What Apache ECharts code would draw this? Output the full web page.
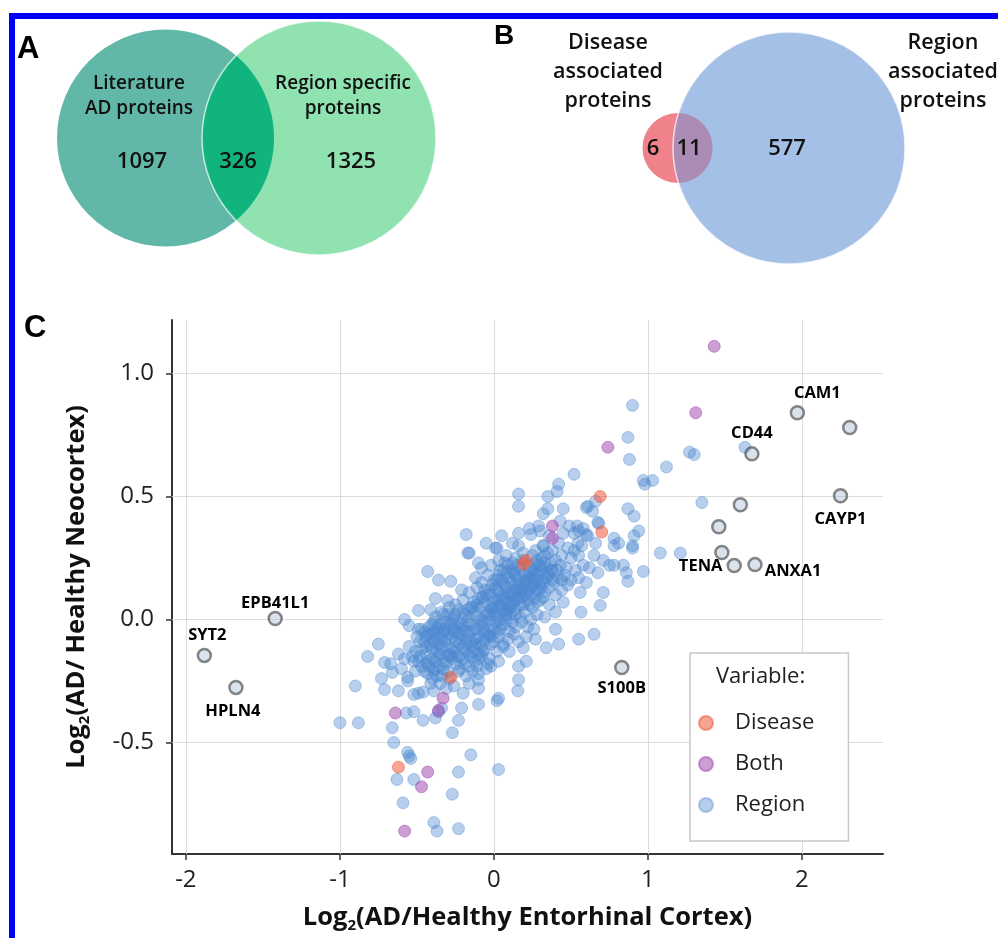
<!DOCTYPE html>
<html lang="en">
<head>
<meta charset="UTF-8">
<title>Disease and region associated proteins</title>
<style>
  html, body { margin: 0; padding: 0; background: #fff; overflow: hidden; }
  #main { position: absolute; left: 0; top: 0; width: 998px; height: 938px; }
  .frame { position: absolute; left: 9px; top: 13px; width: 989px; height: 925px; box-sizing: border-box;
           border-left: 6px solid #0000ff; border-top: 6px solid #0000ff; pointer-events: none; }
</style>
</head>
<body>
<div id="main"></div>
<div class="frame"></div>
<script src="https://cdn.jsdelivr.net/npm/echarts/dist/echarts.min.js"></script>
<script>
var FONT = '"Open Sans", "Noto Sans", sans-serif';

// ---- panel A / B venn counts ----
var vennACounts = [1097, 326, 1325];
var vennALabels = ['Literature\nAD proteins', 'Region specific\nproteins'];
var vennBCounts = [6, 11, 577];
var vennBLabels = ['Disease\nassociated\nproteins', 'Region\nassociated\nproteins'];

// ---- panel C axes ----
var xTicks = [-2, -1, 0, 1, 2];
var yTicks = [-0.5, 0, 0.5, 1.0];

// ---- panel C points: [log2 EC, log2 neocortex] ----
var regionPoints = [
  [-0.18,0.345],[0.16,0.35],[0.23,0.37],[0.24,0.345],[0.30,0.36],[0.45,0.35],[0.55,0.36],[0.61,0.34],[0.78,0.33],[0.91,0.34],[0.94,0.36],[0.05,0.34],[0.36,0.34],
  [0.01,0.29],[0.02,0.29],[0.16,0.30],[0.32,0.30],[0.42,0.31],[0.48,0.29],[0.57,0.30],[0.78,0.30],[0.90,0.29],[0.66,0.31],[0.12,0.31],[0.27,0.28],[0.38,0.28],[0.52,0.28],[-0.05,0.31],
  [-0.16,0.27],[-0.10,0.23],[-0.17,0.27],[0.08,0.26],[0.14,0.25],[0.19,0.27],[0.25,0.26],[0.31,0.25],[0.35,0.27],[0.40,0.24],[0.44,0.26],[0.50,0.25],[0.55,0.26],[0.65,0.26],[0.71,0.24],[1.08,0.27],[1.21,0.27],[0.03,0.24],[0.28,0.24],
  [-0.43,0.195],[-0.08,0.21],[-0.02,0.22],[0.04,0.20],[0.09,0.22],[0.12,0.20],[0.17,0.21],[0.22,0.22],[0.26,0.20],[0.30,0.22],[0.34,0.21],[0.38,0.20],[0.43,0.22],[0.47,0.21],[0.53,0.20],[0.58,0.22],[0.75,0.22],[0.78,0.22],[0.84,0.22],[0.86,0.19],[0.97,0.195],[0.675,0.19],[0.62,0.21],[0.33,0.23],[0.07,0.23],
  [-0.36,0.16],[-0.28,0.155],[-0.08,0.15],[-0.12,0.17],[-0.04,0.18],[0.00,0.16],[0.03,0.18],[0.06,0.15],[0.10,0.17],[0.13,0.19],[0.16,0.16],[0.19,0.18],[0.22,0.15],[0.25,0.17],[0.28,0.19],[0.31,0.16],[0.35,0.18],[0.39,0.15],[0.42,0.17],[0.46,0.18],[0.50,0.16],[0.55,0.17],[0.87,0.155],[0.60,0.15],[0.20,0.185],[0.08,0.19],
  [-0.21,0.12],[-0.16,0.11],[-0.11,0.13],[-0.06,0.12],[-0.03,0.10],[0.01,0.13],[0.04,0.11],[0.07,0.14],[0.10,0.10],[0.13,0.12],[0.16,0.14],[0.18,0.11],[0.21,0.13],[0.24,0.10],[0.27,0.12],[0.30,0.14],[0.33,0.11],[0.36,0.13],[0.40,0.10],[0.44,0.12],[0.56,0.11],[0.71,0.11],[0.48,0.14],[-0.01,0.14],[0.14,0.145],[0.26,0.145],
  [-0.38,0.085],[-0.30,0.077],[-0.14,0.05],[-0.10,0.085],[-0.25,0.06],[-0.20,0.08],[-0.06,0.07],[-0.02,0.05],[0.01,0.08],[0.04,0.06],[0.07,0.09],[0.10,0.05],[0.13,0.07],[0.16,0.09],[0.19,0.06],[0.22,0.08],[0.25,0.05],[0.28,0.07],[0.32,0.09],[0.36,0.06],[0.69,0.057],[0.45,0.07],[0.05,0.09],[-0.08,0.09],[0.12,0.095],
  [-0.49,0.037],[-0.41,0.04],[-0.34,0.03],[-0.26,0.01],[-0.20,0.03],[-0.58,0.0],[-0.39,-0.01],[-0.30,0.02],[-0.16,0.01],[-0.12,0.03],[-0.08,0.00],[-0.05,0.02],[-0.01,0.04],[0.02,0.01],[0.05,0.03],[0.08,0.00],[0.11,0.02],[0.14,0.04],[0.17,0.01],[0.20,0.03],[0.24,0.00],[0.28,0.02],[0.33,0.01],[0.565,0.03],[0.40,0.03],[-0.23,0.04],[0.09,0.04],[-0.03,-0.005],
  [-0.55,-0.025],[-0.49,-0.04],[-0.45,-0.05],[-0.36,-0.03],[-0.32,-0.04],[-0.28,-0.02],[-0.24,-0.05],[-0.20,-0.03],[-0.17,-0.01],[-0.13,-0.04],[-0.09,-0.02],[-0.06,-0.05],[-0.02,-0.03],[0.01,-0.01],[0.04,-0.04],[0.07,-0.02],[0.10,-0.05],[0.14,-0.03],[0.18,-0.01],[0.26,-0.04],[0.40,-0.04],[0.22,-0.03],[-0.40,-0.02],[0.12,-0.01],
  [-0.39,-0.08],[-0.27,-0.07],[-0.21,-0.08],[-0.34,-0.08],[-0.44,-0.07],[-0.48,-0.09],[-0.30,-0.06],[-0.25,-0.09],[-0.17,-0.06],[-0.14,-0.09],[-0.10,-0.07],[-0.06,-0.08],[-0.03,-0.06],[0.00,-0.09],[0.03,-0.07],[0.06,-0.10],[0.09,-0.08],[0.13,-0.06],[0.27,-0.08],[0.55,-0.08],[0.65,-0.06],[0.16,-0.09],[0.21,-0.07],[-0.36,-0.10],[-0.12,-0.10],
  [-0.75,-0.10],[-0.62,-0.14],[-0.55,-0.11],[-0.47,-0.12],[-0.41,-0.105],[-0.37,-0.13],[-0.33,-0.11],[-0.29,-0.14],[-0.25,-0.12],[-0.22,-0.10],[-0.18,-0.13],[-0.14,-0.11],[-0.10,-0.14],[-0.06,-0.12],[-0.02,-0.10],[0.02,-0.13],[0.06,-0.11],[0.42,-0.10],[0.34,-0.115],[0.19,-0.115],[0.10,-0.13],[-0.44,-0.14],[-0.51,-0.13],
  [-0.82,-0.15],[-0.71,-0.175],[-0.67,-0.18],[-0.58,-0.16],[-0.52,-0.17],[-0.48,-0.15],[-0.44,-0.18],[-0.40,-0.16],[-0.36,-0.19],[-0.32,-0.17],[-0.28,-0.15],[-0.24,-0.18],[-0.20,-0.16],[-0.16,-0.19],[-0.12,-0.17],[-0.08,-0.15],[-0.04,-0.18],[-0.02,-0.19],[0.03,-0.17],[0.21,-0.17],[0.16,-0.19],[-0.47,-0.19],[-0.10,-0.16],
  [-0.60,-0.20],[-0.66,-0.215],[-0.73,-0.24],[-0.56,-0.235],[-0.51,-0.21],[-0.43,-0.22],[-0.38,-0.20],[-0.34,-0.23],[-0.30,-0.21],[-0.22,-0.20],[-0.18,-0.23],[-0.14,-0.21],[-0.10,-0.22],[-0.05,-0.20],[-0.10,-0.245],[0.16,-0.245],[-0.40,-0.24],
  [-0.90,-0.27],[-0.71,-0.285],[-0.62,-0.29],[-0.56,-0.25],[-0.52,-0.305],[-0.49,-0.30],[-0.46,-0.295],[-0.39,-0.29],[-0.35,-0.26],[-0.31,-0.28],[-0.26,-0.27],[-0.16,-0.26],[-0.10,-0.28],[0.155,-0.29],[-0.20,-0.30],
  [-0.34,-0.36],[-0.36,-0.375],[-0.57,-0.38],[-0.52,-0.375],[-0.46,-0.41],[-0.38,-0.40],[-0.23,-0.41],[-0.27,-0.46],[-0.21,-0.36],[-0.10,-0.345],[0.02,-0.33],[0.03,-0.32],[-1.00,-0.42],[-0.88,-0.42],[-0.66,-0.44],[-0.65,-0.50],
  [-0.56,-0.54],[-0.54,-0.565],[-0.55,-0.555],[-0.63,-0.65],[-0.52,-0.65],[-0.23,-0.62],[-0.15,-0.55],[0.03,-0.61],[-0.27,-0.71],[-0.59,-0.745],[-0.39,-0.825],[-0.37,-0.86],[-0.23,-0.85],
  [0.90,0.87],[0.87,0.74],[0.88,0.65],[1.27,0.68],[1.30,0.67],[1.12,0.62],[0.97,0.565],[0.98,0.55],[1.03,0.565],[1.35,0.475],[0.60,0.455],[0.64,0.44],[0.87,0.45],[0.91,0.42],[0.68,0.39],
  [0.52,0.59],[0.42,0.55],[0.41,0.52],[0.35,0.50],[0.16,0.51],[0.16,0.46],[0.35,0.45],[0.45,0.45],[0.32,0.43],[0.61,0.46],[0.66,0.48],[0.29,0.38],[0.43,0.40],[0.49,0.38],[0.54,0.38],[0.58,0.37],
  [0.52,0.35],[0.60,0.345],[0.675,0.395],[0.81,0.31],[0.32,0.30],[0.545,0.31],[1.63,0.70],[0.90,0.30],
  [-0.42,-0.03],[-0.38,0.01],[-0.35,-0.06],[-0.31,-0.01],[-0.27,-0.04],[-0.23,-0.01],[-0.19,-0.05],[-0.15,-0.02],[-0.11,0.01],[-0.07,-0.03],[-0.03,0.02],[0.00,0.05],[0.03,0.08],[0.06,0.04],[0.09,0.11],[0.12,0.07],
  [0.15,0.12],[0.18,0.09],[0.21,0.16],[0.24,0.13],[0.27,0.18],[0.30,0.08],[-0.40,-0.12],[-0.36,-0.15],[-0.32,-0.09],[-0.28,-0.12],[-0.24,-0.15],[-0.20,-0.11],[-0.16,-0.14],[-0.12,-0.08],[-0.08,-0.11],[-0.04,-0.07],
  [0.00,-0.04],[0.04,0.00],[0.08,0.03],[0.11,0.15],[0.14,0.18],[0.17,0.13],[0.20,0.10],[0.23,0.06],[0.26,0.09],[0.29,0.12],[0.32,0.15],[0.35,0.19],[0.38,0.16],[0.41,0.20],[-0.43,-0.17],[-0.39,-0.21],
  [-0.35,-0.14],[-0.31,-0.18],[-0.27,-0.16],[-0.23,-0.21],[-0.19,-0.18],[-0.15,-0.15],[-0.11,-0.19],[-0.07,-0.13],[-0.03,-0.16],[-0.45,-0.09],[-0.41,-0.06],[-0.37,-0.04],[-0.33,0.02],[-0.29,0.05],[-0.25,0.02],[-0.21,-0.02],
  [-0.17,0.04],[-0.13,0.07],[-0.09,0.05],[-0.05,0.10],[-0.01,0.07],[0.02,0.12],[0.05,0.16],[0.08,0.13],[0.11,0.19],[0.15,0.22],[0.19,0.24],[0.23,0.19],[0.27,0.23],[0.31,0.20],[0.37,0.23],[0.44,0.16],
  [-0.44,-0.11],[-0.40,-0.09],[-0.37,-0.07],[-0.33,-0.05],[-0.29,-0.08],[-0.26,-0.05],[-0.22,-0.06],[-0.18,-0.08],[-0.15,-0.05],[-0.11,-0.04],[-0.07,-0.01],[-0.04,0.03],[0.00,0.02],[0.03,0.05],[0.06,0.08],[0.09,0.07],
  [0.12,0.10],[0.15,0.08],[0.18,0.12],[0.22,0.11],[0.25,0.14],[0.28,0.16],[0.31,0.13],[0.34,0.17],[0.37,0.20],[-0.42,-0.19],[-0.38,-0.17],[-0.34,-0.12],[-0.30,-0.15],[-0.26,-0.13],[-0.22,-0.15],[-0.18,-0.10],
  [-0.14,-0.13],[-0.10,-0.10],[-0.06,-0.06],[-0.02,-0.07],[0.02,-0.05],[0.05,-0.02],[0.08,0.02],[0.11,0.05],[0.14,0.02],[0.17,0.06],[0.20,0.15],[0.23,0.17],[0.26,0.20],[0.29,0.22],[0.33,0.26],[0.12,0.23],
  [0.06,0.20],[0.02,0.16],[-0.03,0.12],[-0.07,0.09],[-0.11,0.06],[-0.15,0.05],[-0.19,0.02],[-0.23,-0.03],[-0.27,0.00],[-0.31,-0.03],[-0.35,-0.02],[-0.39,-0.05],[-0.43,-0.06],[-0.47,-0.04],[-0.50,-0.07],[-0.53,-0.15],
  [-0.49,-0.17],[-0.45,-0.21],[-0.41,-0.26],[-0.37,-0.23],[-0.33,-0.20],[-0.29,-0.24]
];
var diseasePoints = [[0.69,0.50],[0.70,0.355],[0.21,0.24],[-0.28,-0.235],[-0.62,-0.60],[0.19,0.225]];
var bothPoints = [[1.43,1.11],[1.31,0.84],[0.74,0.70],[0.38,0.38],[0.38,0.33],[-0.33,-0.32],[-0.64,-0.38],[-0.43,-0.62],[-0.47,-0.68],[-0.58,-0.86],[-0.36,-0.37]];
var labeledPoints = [[1.97,0.84],[2.31,0.78],[1.675,0.673],[2.25,0.503],[1.60,0.466],[1.46,0.377],[1.48,0.272],[1.56,0.219],[1.695,0.223],[-1.42,0.004],[-1.88,-0.146],[-1.675,-0.276],[0.83,-0.195]];
var labeledNames = ['CAM1','','CD44','CAYP1','','','','TENA','ANXA1','EPB41L1','SYT2','HPLN4','S100B'];

// label placement for the named proteins
var labelPlacement = {
  CAM1: { position: 'top', distance: 3, offset: [20, 0] },
  CD44: { position: 'top', distance: 4, offset: [0, 0] },
  CAYP1: { position: 'bottom', distance: 5, offset: [0, 2] },
  TENA: { position: 'left', distance: 4, offset: [0, 1] },
  ANXA1: { position: 'right', distance: 2, offset: [0, 7] },
  EPB41L1: { position: 'top', distance: 1, offset: [0, 2] },
  SYT2: { position: 'top', distance: 4, offset: [3, 0] },
  HPLN4: { position: 'bottom', distance: 6, offset: [-3, 2] },
  S100B: { position: 'bottom', distance: 5, offset: [0, 0] }
};

// venn layout in the top overlay grid (1 unit = 1 px)
var vennLayout = [
  { c1: [165.5, 138], r1: 108.5, c2: [319, 138], r2: 117,
    colors: ['#62b8a8', '#90e2b0', '#12b47e'],
    counts: vennACounts, labels: vennALabels,
    countPos: [[142, 162], [238, 162], [351, 162]], labelPos: [[139, 96], [343, 96]],
    countSize: 22, labelSize: 19, labelLine: 25 },
  { c1: [677.5, 148], r1: 35, c2: [789, 148], r2: 116,
    colors: ['#f0828c', '#a4c0e6', '#aa8cb4'],
    counts: vennBCounts, labels: vennBLabels,
    countPos: [[653, 149], [689, 149], [787, 149]], labelPos: [[608, 72], [943, 72]],
    countSize: 22, labelSize: 21.5, labelLine: 29 }
];

function renderVenn(params, api) {
  var v = vennLayout[api.value(2)];
  var p1 = api.coord(v.c1), p2 = api.coord(v.c2);
  var r1 = Math.abs(api.size([v.r1, 0])[0]);
  var r2 = Math.abs(api.size([v.r2, 0])[0]);
  var dx = p2[0] - p1[0], dy = p2[1] - p1[1];
  var d = Math.sqrt(dx * dx + dy * dy);
  var th = Math.atan2(dy, dx);
  var a = (d * d + r1 * r1 - r2 * r2) / (2 * d);
  var al1 = Math.acos(a / r1);
  var al2 = Math.acos((d - a) / r2);
  var lens = [], i, t;
  for (i = 0; i <= 80; i++) {
    t = th - al1 + 2 * al1 * i / 80;
    lens.push([p1[0] + r1 * Math.cos(t), p1[1] + r1 * Math.sin(t)]);
  }
  for (i = 0; i <= 80; i++) {
    t = th + Math.PI - al2 + 2 * al2 * i / 80;
    lens.push([p2[0] + r2 * Math.cos(t), p2[1] + r2 * Math.sin(t)]);
  }
  var children = [
    { type: 'circle', shape: { cx: p1[0], cy: p1[1], r: r1 }, style: { fill: v.colors[0] } },
    { type: 'circle', shape: { cx: p2[0], cy: p2[1], r: r2 }, style: { fill: v.colors[1] } },
    { type: 'polygon', shape: { points: lens }, style: { fill: v.colors[2] } },
    { type: 'circle', shape: { cx: p2[0], cy: p2[1], r: r2 }, style: { fill: 'none', stroke: 'rgba(255,255,255,0.7)', lineWidth: 1.5 } }
  ];
  v.counts.forEach(function (c, k) {
    var p = api.coord(v.countPos[k]);
    children.push({ type: 'text', x: p[0], y: p[1], style: {
      text: String(c), fill: '#111', fontSize: v.countSize, fontWeight: 600, fontFamily: FONT,
      align: 'center', verticalAlign: 'middle' } });
  });
  v.labels.forEach(function (s, k) {
    var p = api.coord(v.labelPos[k]);
    children.push({ type: 'text', x: p[0], y: p[1], style: {
      text: s, fill: '#111', fontSize: v.labelSize, fontWeight: 600, fontFamily: FONT,
      lineHeight: v.labelLine, align: 'center', verticalAlign: 'middle' } });
  });
  return { type: 'group', children: children };
}

var titleRich = {
  b: { fontSize: 25.5, fontWeight: 'bold', fontFamily: FONT, color: '#111', lineHeight: 30 },
  s: { fontSize: 15, fontWeight: 'bold', fontFamily: FONT, color: '#111', lineHeight: 17, verticalAlign: 'bottom' }
};

var chart = echarts.init(document.getElementById('main'), null, { renderer: 'canvas' });
var option = {
  animation: false,
  textStyle: { fontFamily: FONT },
  grid: [
    { left: 172, right: 115, top: 320, bottom: 83 },
    { left: 0, top: 0, width: 998, height: 300 }
  ],
  xAxis: [
    { type: 'value', gridIndex: 0, min: -2.09, max: 2.526,
      axisLine: { onZero: false, lineStyle: { color: '#333', width: 2 } },
      axisTick: { show: true, length: 6, customValues: xTicks, lineStyle: { color: '#333', width: 1.5 } },
      axisLabel: { customValues: xTicks, fontSize: 24, color: '#222', margin: 14, formatter: function (v) { return String(v); } },
      splitLine: { show: false },
      name: '{b|Log}{s|2}{b|(AD/Healthy Entorhinal Cortex)}', nameLocation: 'middle', nameGap: 49,
      nameTextStyle: { rich: titleRich } },
    { type: 'value', gridIndex: 1, min: 0, max: 998, show: false }
  ],
  yAxis: [
    { type: 'value', gridIndex: 0, min: -0.953, max: 1.217,
      axisLine: { show: true, onZero: false, lineStyle: { color: '#333', width: 2 } },
      axisTick: { show: true, length: 6, customValues: yTicks, lineStyle: { color: '#333', width: 1.5 } },
      axisLabel: { customValues: yTicks, fontSize: 24, color: '#222', margin: 18, formatter: function (v) { return v.toFixed(1); } },
      splitLine: { show: false },
      name: '{b|Log}{s|2}{b|(AD/ Healthy Neocortex)}', nameLocation: 'middle', nameRotate: 90, nameGap: 80,
      nameTextStyle: { rich: titleRich } },
    { type: 'value', gridIndex: 1, min: 0, max: 300, inverse: true, show: false }
  ],
  title: {
    text: 'Variable:', left: 716, top: 666, padding: 0,
    textStyle: { fontSize: 22, fontWeight: 'normal', color: '#222', fontFamily: FONT }
  },
  legend: {
    data: ['Disease', 'Both', 'Region'], orient: 'vertical', left: 690, top: 653,
    padding: [57, 34, 23, 8], itemWidth: 48, itemHeight: 14, itemGap: 15,
    backgroundColor: '#fff', borderColor: '#c8c8c8', borderWidth: 1.5,
    textStyle: { fontSize: 22, color: '#222', fontFamily: FONT, lineHeight: 26 },
    selectedMode: false
  },
  graphic: [
    { type: 'text', left: 17, top: 34, style: { text: 'A', font: 'bold 31px "Liberation Sans", Arial, sans-serif', fill: '#000' } },
    { type: 'text', left: 494, top: 22, style: { text: 'B', font: 'bold 28px "Liberation Sans", Arial, sans-serif', fill: '#000' } },
    { type: 'text', left: 24, top: 313, style: { text: 'C', font: 'bold 31px "Liberation Sans", Arial, sans-serif', fill: '#000' } }
  ],
  series: [
    { type: 'custom', name: 'venn', xAxisIndex: 1, yAxisIndex: 1, clip: false, silent: true,
      renderItem: renderVenn,
      data: vennLayout.map(function (v, i) { return [v.c1[0], v.c1[1], i]; }) },
    { type: 'scatter', name: 'Region', xAxisIndex: 0, yAxisIndex: 0, symbolSize: 12, z: 2,
      itemStyle: { color: '#4a86cf', opacity: 0.4, borderColor: '#4a86cf', borderWidth: 1 },
      data: regionPoints,
      markLine: { silent: true, z: 1, symbol: 'none', animation: false, label: { show: false },
        lineStyle: { color: '#dcdcdc', width: 1, type: 'solid' },
        emphasis: { disabled: true },
        data: xTicks.map(function (v) { return { xAxis: v }; }).concat(yTicks.map(function (v) { return { yAxis: v }; })) } },
    { type: 'scatter', name: 'Disease', xAxisIndex: 0, yAxisIndex: 0, symbolSize: 12, z: 3,
      itemStyle: { color: '#ee5a3c', opacity: 0.55, borderColor: '#ee5a3c', borderWidth: 1 },
      data: diseasePoints },
    { type: 'scatter', name: 'Both', xAxisIndex: 0, yAxisIndex: 0, symbolSize: 12, z: 3,
      itemStyle: { color: '#a24fb0', opacity: 0.55, borderColor: '#a24fb0', borderWidth: 1 },
      data: bothPoints },
    { type: 'scatter', name: 'Labeled', xAxisIndex: 0, yAxisIndex: 0, symbolSize: 13, z: 4,
      itemStyle: { color: 'rgba(170,190,215,0.55)', borderColor: 'rgba(70,70,70,0.8)', borderWidth: 2.5 },
      label: { show: true, formatter: '{b}', fontSize: 16.5, fontWeight: 'bold', color: '#000', opacity: 1, fontFamily: FONT },
      data: labeledPoints.map(function (p, i) {
        var nm = labeledNames[i];
        var lab = Object.assign({ show: nm !== '' }, labelPlacement[nm] || {});
        return { value: p, name: nm, label: lab };
      }) }
  ]
};
chart.setOption(option);
</script>
</body>
</html>
